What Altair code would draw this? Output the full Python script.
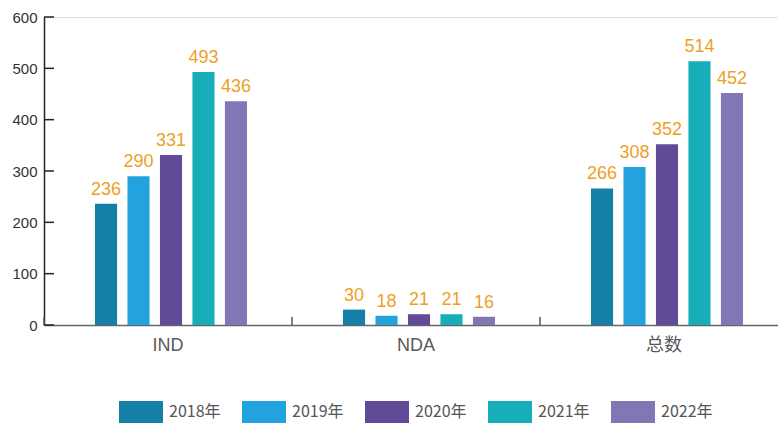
import altair as alt
import pandas as pd

categories = ["IND", "NDA", "总数"]
years = ["2018年", "2019年", "2020年", "2021年", "2022年"]
ind_values = [236, 290, 331, 493, 436]
nda_values = [30, 18, 21, 21, 16]
total_values = [266, 308, 352, 514, 452]
y_ticks = [0, 100, 200, 300, 400, 500, 600]
colors = ["#1480A8", "#22A3DD", "#614A97", "#17AEBA", "#7F78B5"]

rows = []
for cat, vals in zip(categories, [ind_values, nda_values, total_values]):
    for yr, v in zip(years, vals):
        rows.append({"cat": cat, "year": yr, "value": v})
df = pd.DataFrame(rows)
ticks_df = pd.DataFrame({"v": y_ticks})
cats_df = pd.DataFrame({"cat": categories})

FONT = "Liberation Sans, Noto Sans CJK SC, sans-serif"

x_scale = alt.Scale(domain=categories, range=[0, 744], paddingInner=0, paddingOuter=0)
y_scale = alt.Scale(domain=[0, 600])
off_scale = alt.Scale(domain=years, range=[51, 203], paddingInner=0.32, paddingOuter=0)

base = alt.Chart(df)

bars = base.mark_bar().encode(
    x=alt.X("cat:N", scale=x_scale, sort=categories,
            axis=alt.Axis(title=None, labelAngle=0, ticks=False, domain=True,
                          domainColor="#666666", domainWidth=1.5,
                          labelFont=FONT, labelFontSize=18, labelColor="#5A5A5A",
                          labelPadding=11)),
    xOffset=alt.XOffset("year:N", scale=off_scale, sort=years),
    y=alt.Y("value:Q", scale=y_scale,
            axis=alt.Axis(title=None, values=y_ticks, ticks=False, grid=False,
                          domain=True, domainColor="#222222", domainWidth=1.5,
                          labelFont=FONT, labelFontSize=15, labelColor="#333333",
                          labelPadding=7)),
    color=alt.Color("year:N", sort=years,
                    scale=alt.Scale(domain=years, range=colors),
                    legend=alt.Legend(title=None, orient="none", direction="horizontal",
                                      legendX=75, legendY=373,
                                      symbolType="M-1,-0.5L1,-0.5L1,0.5L-1,0.5Z",
                                      symbolSize=1936, symbolStrokeWidth=0,
                                      symbolOpacity=1, labelFont="Noto Sans CJK SC",
                                      labelFontSize=16, labelColor="#555555",
                                      labelOffset=6, columnPadding=21, padding=0)),
)

labels = base.mark_text(baseline="bottom", dy=-5, fontSize=18, font=FONT,
                        color="#EE9F1F").encode(
    x=alt.X("cat:N", scale=x_scale, sort=categories),
    xOffset=alt.XOffset("year:N", scale=off_scale, sort=years),
    y=alt.Y("value:Q", scale=y_scale),
    text=alt.Text("value:Q"),
)

ytick_rules = alt.Chart(ticks_df).mark_rule(color="#222222", strokeWidth=1.5).encode(
    y=alt.Y("v:Q", scale=y_scale),
    x=alt.value(0),
    x2=alt.value(10),
)

xtick_rules = alt.Chart(cats_df).mark_rule(color="#555555", strokeWidth=1.5).encode(
    x=alt.X("cat:N", scale=x_scale, sort=categories, bandPosition=0),
    y=alt.value(300),
    y2=alt.value(308),
)

chart = alt.layer(bars, labels, ytick_rules, xtick_rules).properties(
    width=734, height=308,
    padding={"left": 44, "top": 17, "right": 0, "bottom": 98},
    autosize=alt.AutoSizeParams(type="none"),
).configure_view(stroke=None).configure(background="white")

chart.save("out.html", embed_options={"renderer": "svg", "actions": False})
